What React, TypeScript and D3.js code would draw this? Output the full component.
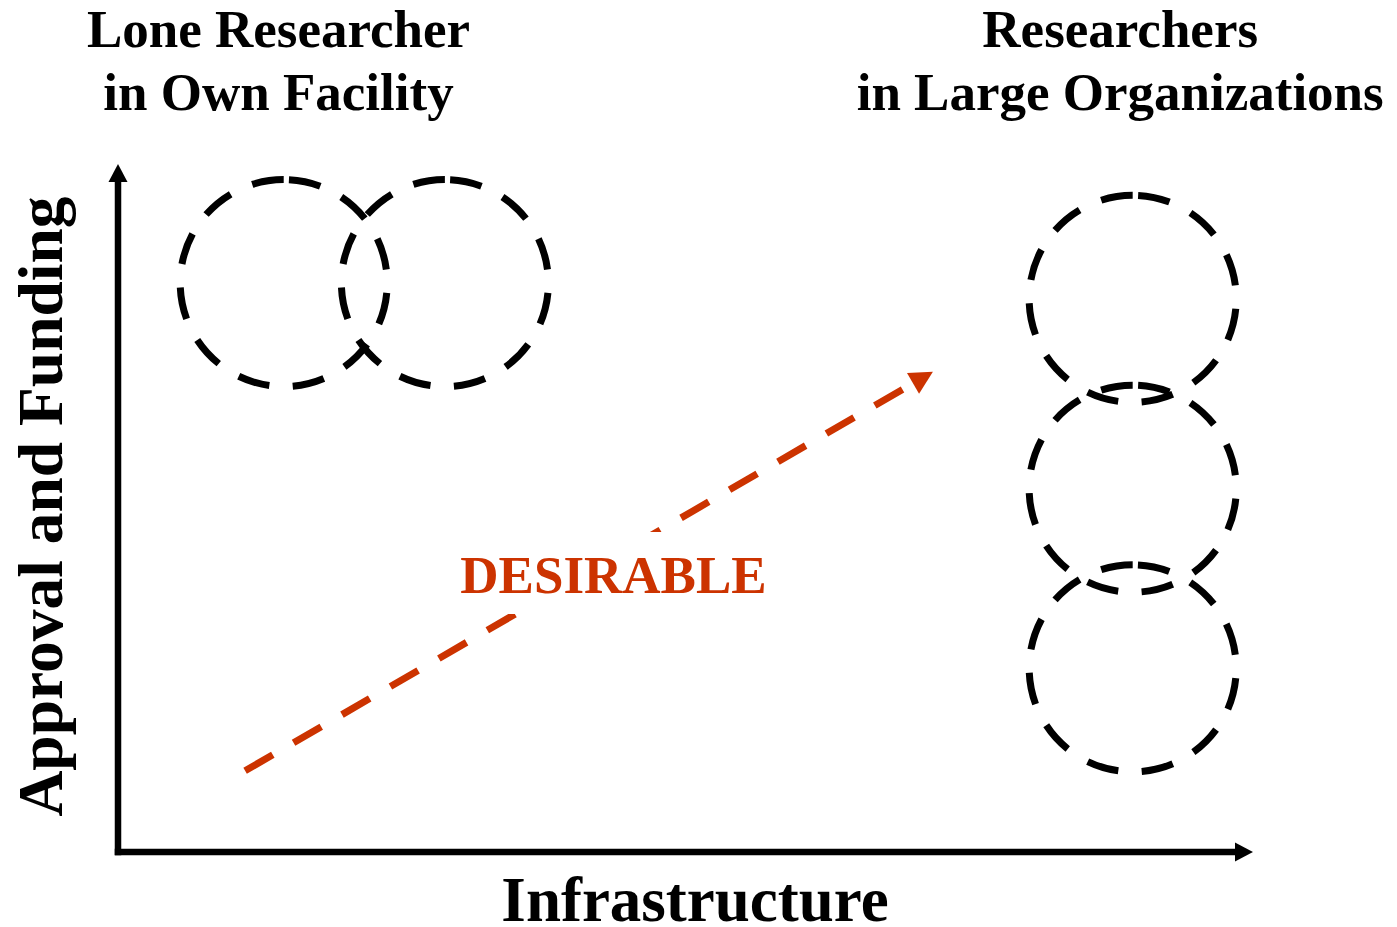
import React from "react";
import * as d3 from "d3";

// ---- data ----
const groupTitles: string[][] = [
  ["Lone Researcher", "in Own Facility"],
  ["Researchers", "in Large Organizations"],
];
const groupTitleX = [1.414, 8.83];
const circleX = [1.46, 2.88, 8.94, 8.94, 8.94];
const circleY = [8.27, 8.27, 8.04, 5.28, 2.67];
const circleR = 0.912; // in x units
const arrowFrom = [1.12, 1.18];
const arrowTo = [7.18, 6.98];
const arrowLabel = "DESIRABLE";
const xAxisLabel = "Infrastructure";
const yAxisLabel = "Approval and Funding";

const W = 1397;
const H = 927;
const FONT = "'Liberation Serif', 'Times New Roman', serif";
const RED = "#CC3300";

export default function App() {
  const x = d3.scaleLinear().domain([0, 10]).range([118, 1253]);
  const y = d3.scaleLinear().domain([0, 10]).range([852, 164]);
  const r = x(circleR) - x(0);

  const circumference = 2 * Math.PI * r;
  const dash = 32;
  const endGap = 6;
  const gap = (circumference - 12 * dash - endGap) / 11;

  // counter-clockwise from the top point
  const circleD = (cx: number, cy: number) =>
    `M${cx},${cy - r} A${r},${r} 0 1 0 ${cx},${cy + r} A${r},${r} 0 1 0 ${cx},${cy - r}`;

  // arrow
  const x0 = x(arrowFrom[0]);
  const y0 = y(arrowFrom[1]);
  const x1 = x(arrowTo[0]);
  const y1 = y(arrowTo[1]);
  const len = Math.hypot(x1 - x0, y1 - y0);
  const ux = (x1 - x0) / len;
  const uy = (y1 - y0) / len;
  const headL = 23;
  const headW = 24;
  const bx = x1 - ux * headL;
  const by = y1 - uy * headL;
  const px = -uy;
  const py = ux;
  const head = [
    [x1, y1],
    [bx + (px * headW) / 2, by + (py * headW) / 2],
    [bx - (px * headW) / 2, by - (py * headW) / 2],
  ];

  const ax0 = x(0);
  const ay0 = y(0);
  const axTop = y(10);
  const axRight = x(10);
  const aw = 6.5;
  const ah = 18;
  const ahw = 19;

  return (
    <svg
      width={W}
      height={H}
      style={{ position: "absolute", left: 0, top: 0, background: "#fff" }}
      fontFamily={FONT}
      fontWeight="bold"
    >
      <rect x={0} y={0} width={W} height={H} fill="#fff" />
      {/* group titles */}
      {groupTitles.map((lines, i) => (
        <text key={i} textAnchor="middle" fontSize={53} fill="#000">
          {lines.map((t, j) => (
            <tspan key={j} x={x(groupTitleX[i])} y={47 + j * 63}>
              {t}
            </tspan>
          ))}
        </text>
      ))}

      {/* axes */}
      <line x1={ax0} y1={ay0 + aw / 2} x2={ax0} y2={axTop + ah} stroke="#000" strokeWidth={aw} />
      <line x1={ax0 - aw / 2} y1={ay0} x2={axRight - ah} y2={ay0} stroke="#000" strokeWidth={aw} />
      <polygon
        points={`${ax0},${axTop} ${ax0 - ahw / 2},${axTop + ah} ${ax0 + ahw / 2},${axTop + ah}`}
        fill="#000"
      />
      <polygon
        points={`${axRight},${ay0} ${axRight - ah},${ay0 - ahw / 2} ${axRight - ah},${ay0 + ahw / 2}`}
        fill="#000"
      />

      {/* circles */}
      {circleX.map((cx, i) => (
        <path
          key={i}
          d={circleD(x(cx), y(circleY[i]))}
          fill="none"
          stroke="#000"
          strokeWidth={7}
          strokeDasharray={`${dash} ${gap}`}
        />
      ))}

      {/* desirable arrow */}
      <line
        x1={x0}
        y1={y0}
        x2={bx}
        y2={by}
        stroke={RED}
        strokeWidth={7}
        strokeDasharray="32 24"
      />
      <polygon points={head.map((p) => p.join(",")).join(" ")} fill={RED} />
      <rect x={455} y={532} width={318} height={82} fill="#fff" />
      <text x={613.5} y={593} textAnchor="middle" fontSize={53} fill={RED}>
        {arrowLabel}
      </text>

      {/* axis labels */}
      <text x={695} y={921} textAnchor="middle" fontSize={63} fill="#000">
        {xAxisLabel}
      </text>
      <text
        transform={`translate(62,506.5) rotate(-90)`}
        textAnchor="middle"
        fontSize={63.5}
        fill="#000"
      >
        {yAxisLabel}
      </text>
    </svg>
  );
}
